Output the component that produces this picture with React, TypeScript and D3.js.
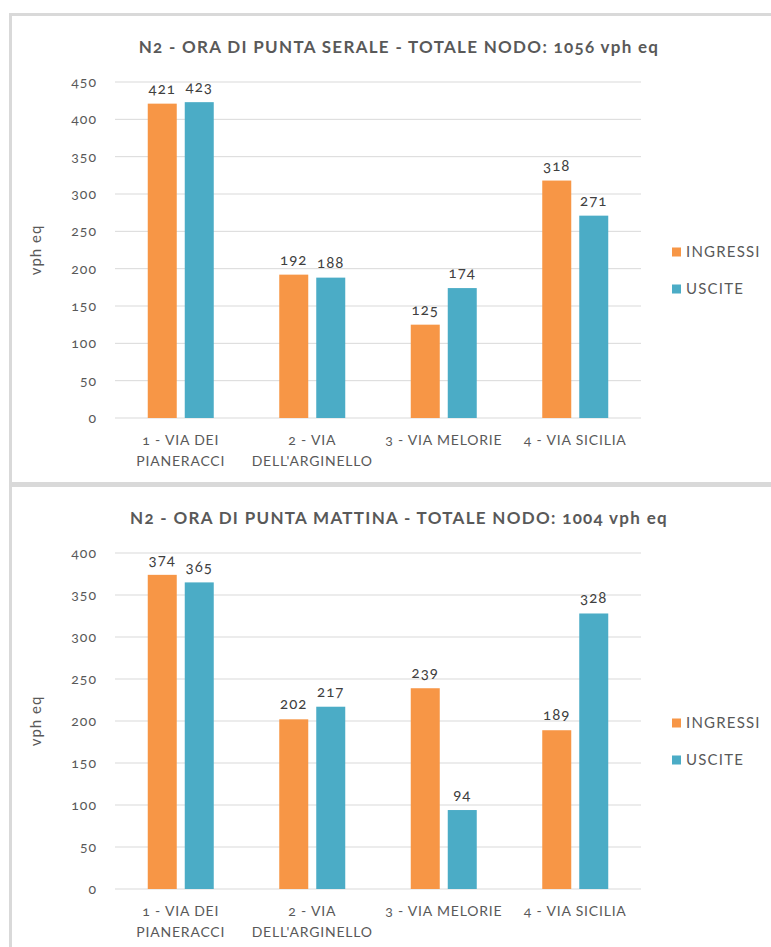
import * as d3 from 'd3';

const categories = [['1 - VIA DEI', 'PIANERACCI'], ['2 - VIA', "DELL'ARGINELLO"], ['3 - VIA MELORIE'], ['4 - VIA SICILIA']];
const seriesNames = ['INGRESSI', 'USCITE'];
const seriesColors = ['#F79646', '#4BACC6'];

const seraleIngressi = [421, 192, 125, 318];
const seraleUscite = [423, 188, 174, 271];
const mattinaIngressi = [374, 202, 239, 189];
const mattinaUscite = [365, 217, 94, 328];

const seraleTicks = [0, 50, 100, 150, 200, 250, 300, 350, 400, 450];
const mattinaTicks = [0, 50, 100, 150, 200, 250, 300, 350, 400];

const charts = [
  { title: 'N2 - ORA DI PUNTA SERALE - TOTALE NODO: 1056 vph eq', values: [seraleIngressi, seraleUscite], ticks: seraleTicks, top: 0 },
  { title: 'N2 - ORA DI PUNTA MATTINA - TOTALE NODO: 1004 vph eq', values: [mattinaIngressi, mattinaUscite], ticks: mattinaTicks, top: 471 },
];

const FONT = 'Lato, "Open Sans", sans-serif';
const TEXT = '#595959';

function BarChart({ title, values, ticks, top }: { title: string; values: number[][]; ticks: number[]; top: number }) {
  const left = 115;
  const right = 641;
  const plotTop = 82;
  const plotBottom = 418;

  const x0 = d3.scaleBand<number>().domain(d3.range(categories.length)).range([left, right]);
  const x1 = d3.scaleBand<number>().domain([0, 1]).range([(x0.bandwidth() - 66) / 2, (x0.bandwidth() + 66) / 2]).paddingInner(8 / 37);
  const y = d3.scaleLinear().domain([0, d3.max(ticks) ?? 0]).range([plotBottom, plotTop]);

  return (
    <g transform={`translate(0,${top})`} fontFamily={FONT} style={{ fontVariantNumeric: 'oldstyle-nums' }}>
      <rect x={10.5} y={14.5} width={780} height={469} fill="#fff" stroke="#D9D9D9" strokeWidth={3} />
      <text x={399} y={53} textAnchor="middle" fontSize={17} fontWeight="bold" fill={TEXT} letterSpacing={1.3}>{title}</text>

      {ticks.map((t) => (
        <g key={t}>
          <line x1={left} x2={right} y1={y(t)} y2={y(t)} stroke="#D9D9D9" strokeWidth={1} />
          <text x={97} y={y(t)} dy="0.35em" textAnchor="end" fontSize={14} fill={TEXT} letterSpacing={1}>{t}</text>
        </g>
      ))}

      <text transform={`translate(41,${(plotTop + plotBottom) / 2}) rotate(-90)`} textAnchor="middle" fontSize={15} fill={TEXT} letterSpacing={1}>vph eq</text>

      {categories.map((cat, i) => (
        <g key={i} transform={`translate(${x0(i)},0)`}>
          {values.map((vals, s) => (
            <g key={s}>
              <rect x={x1(s)} y={y(vals[i])} width={x1.bandwidth()} height={y(0) - y(vals[i])} fill={seriesColors[s]} />
              <text x={(x1(s) ?? 0) + x1.bandwidth() / 2} y={y(vals[i]) - 10} textAnchor="middle" fontSize={15} fill="#404040" letterSpacing={1}>{vals[i]}</text>
            </g>
          ))}
          {cat.map((line, k) => (
            <text key={k} x={x0.bandwidth() / 2} y={445 + k * 21} textAnchor="middle" fontSize={14} fill={TEXT} letterSpacing={0.8}>{line}</text>
          ))}
        </g>
      ))}

      {seriesNames.map((name, s) => (
        <g key={name} transform={`translate(672,${252 + s * 37})`}>
          <rect x={0} y={-4.5} width={9} height={9} fill={seriesColors[s]} />
          <text x={14} y={0} dy="0.35em" fontSize={15} fill={TEXT} letterSpacing={1.2}>{name}</text>
        </g>
      ))}
    </g>
  );
}

export default function App() {
  return (
    <svg width={771} height={947} style={{ position: 'absolute', left: 0, top: 0, display: 'block', background: '#fff' }}>
      {charts.map((c) => (
        <BarChart key={c.title} {...c} />
      ))}
    </svg>
  );
}
